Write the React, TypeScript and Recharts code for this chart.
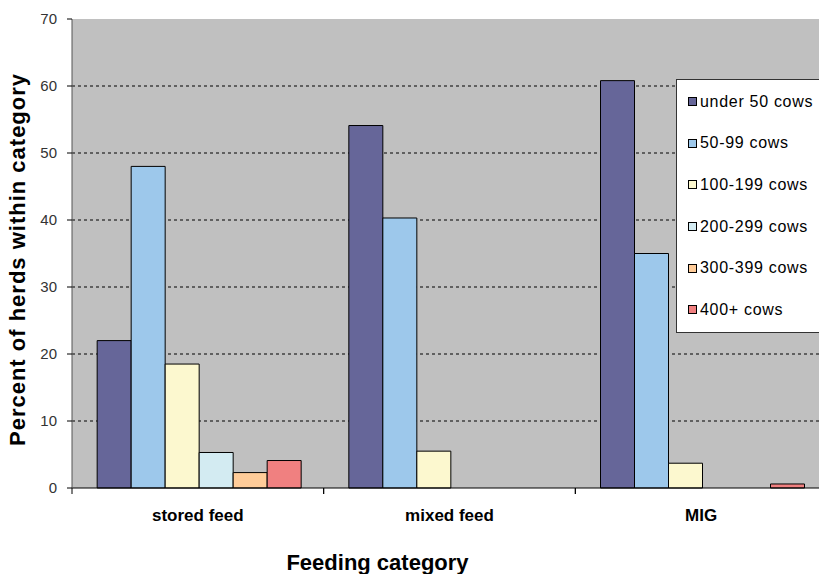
import { BarChart, Bar, XAxis, YAxis, CartesianGrid, Legend } from 'recharts'

const categories = ['stored feed', 'mixed feed', 'MIG']
const under50 = [22, 54.1, 60.8]
const cows50to99 = [48, 40.3, 35]
const cows100to199 = [18.5, 5.5, 3.7]
const cows200to299 = [5.3, 0, 0]
const cows300to399 = [2.3, 0, 0]
const cows400plus = [4.1, 0, 0.6]
const yTicks = [0, 10, 20, 30, 40, 50, 60, 70]
const gridValues = [10, 20, 30, 40, 50, 60]

const SERIES = [
  { key: 'under50', name: 'under 50 cows', values: under50, color: '#666699' },
  { key: 'c50', name: '50-99 cows', values: cows50to99, color: '#9DC8EB' },
  { key: 'c100', name: '100-199 cows', values: cows100to199, color: '#FCF8CF' },
  { key: 'c200', name: '200-299 cows', values: cows200to299, color: '#D3EBF2' },
  { key: 'c300', name: '300-399 cows', values: cows300to399, color: '#FFCC99' },
  { key: 'c400', name: '400+ cows', values: cows400plus, color: '#F08080' },
]

const data = categories.map((cat, i) => {
  const row: Record<string, string | number> = { cat }
  SERIES.forEach((s) => { row[s.key] = s.values[i] })
  return row
})

const FONT = '"Liberation Sans", Arial, sans-serif'

function CategoryTick({ x, y, payload }: any) {
  const half = payload?.offset || 125.8
  return (
    <g>
      <line x1={x - half} x2={x - half} y1={y} y2={y + 6} stroke="#000" />
      <line x1={x + half} x2={x + half} y1={y} y2={y + 6} stroke="#000" />
      <text x={x} y={y} dy={33} textAnchor="middle" fontFamily={FONT} fontSize={17} fontWeight={700} fill="#000">
        {payload.value}
      </text>
    </g>
  )
}

function XTitle({ viewBox }: any) {
  const cx = viewBox.x + viewBox.width / 2 - 72
  return (
    <text x={cx} y={viewBox.y + 82} textAnchor="middle" fontFamily={FONT} fontSize={22} fontWeight={700} fill="#000">
      Feeding category
    </text>
  )
}

function YTitle({ viewBox }: any) {
  const cy = viewBox.y + viewBox.height / 2 + 6
  return (
    <text
      transform={`translate(${viewBox.x + 25}, ${cy}) rotate(-90)`}
      textAnchor="middle"
      fontFamily={FONT}
      fontSize={22}
      fontWeight={700}
      letterSpacing={1}
      fill="#000"
    >
      Percent of herds within category
    </text>
  )
}

function LegendBox() {
  return (
    <div style={{
      background: '#FFFFFF',
      border: '1px solid #333',
      boxSizing: 'border-box',
      width: 144,
      height: 254,
      paddingTop: 1,
      paddingLeft: 11,
      fontFamily: FONT,
      fontSize: 16,
      letterSpacing: 0.7,
      color: '#000',
    }}>
      {SERIES.map((s) => (
        <div key={s.key} style={{ height: 41.6, display: 'flex', alignItems: 'center', whiteSpace: 'nowrap' }}>
          <span style={{
            display: 'inline-block', width: 9, height: 9, boxSizing: 'border-box',
            background: s.color, border: '1px solid #000', marginRight: 3,
          }} />
          <span>{s.name}</span>
        </div>
      ))}
    </div>
  )
}

export default function App() {
  return (
    <div style={{ position: 'absolute', left: 0, top: 0, width: 819, height: 574, overflow: 'hidden', background: '#fff' }}>
      <BarChart
        width={840}
        height={574}
        data={data}
        margin={{ top: 19, right: 13, left: 0, bottom: 0 }}
        barCategoryGap="10%"
        barGap={0}
      >
        <CartesianGrid
          vertical={false}
          horizontalValues={gridValues}
          fill="#C0C0C0"
          stroke="#000"
          strokeDasharray="3 3"
          fillOpacity={1}
        />
        <XAxis
          dataKey="cat"
          height={86}
          tickSize={0}
          tickMargin={0}
          tickLine={false}
          axisLine={{ stroke: '#000' }}
          tick={<CategoryTick />}
          interval={0}
          label={<XTitle />}
        />
        <YAxis
          width={72}
          domain={[0, 70]}
          ticks={yTicks}
          interval={0}
          tickSize={5}
          tickMargin={10}
          axisLine={{ stroke: '#555' }}
          tickLine={{ stroke: '#000' }}
          tick={{ fill: '#333', fontSize: 15, fontFamily: FONT }}
          label={<YTitle />}
        />
        <Legend
          layout="vertical"
          align="center"
          verticalAlign="middle"
          content={<LegendBox />}
          wrapperStyle={{ position: 'absolute', left: 676, top: 79, width: 144, height: 254 }}
        />
        {SERIES.map((s) => (
          <Bar
            key={s.key}
            dataKey={s.key}
            name={s.name}
            fill={s.color}
            stroke="#000"
            strokeWidth={1}
            isAnimationActive={false}
          />
        ))}
      </BarChart>
    </div>
  )
}
